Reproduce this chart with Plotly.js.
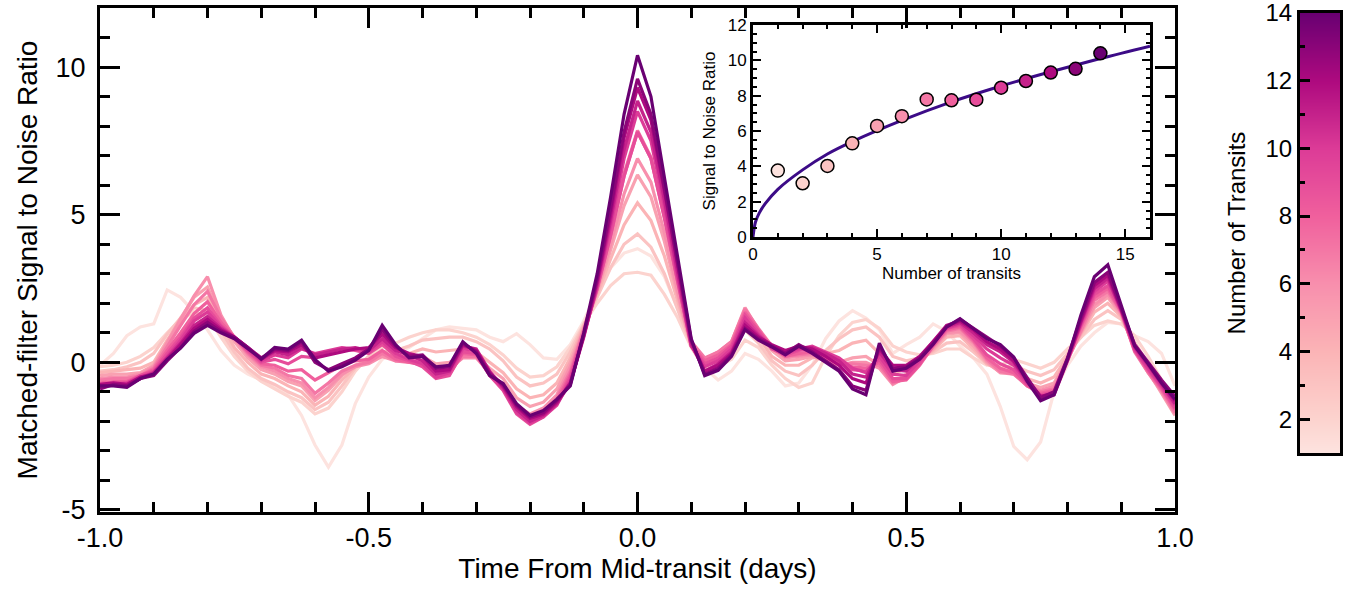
<!DOCTYPE html>
<html>
<head>
<meta charset="utf-8">
<script src="https://cdn.plot.ly/plotly-3.0.1.min.js"></script>
<style>html,body{margin:0;padding:0;background:#fff;}#chart{width:1353px;height:591px;}</style>
</head>
<body>
<div id="chart"></div>
<script>
// ---------- data ----------
const times = [-1.000,-0.975,-0.950,-0.925,-0.900,-0.875,-0.850,-0.825,-0.800,-0.775,-0.750,-0.725,-0.700,-0.675,-0.650,-0.625,-0.600,-0.575,-0.550,-0.525,-0.500,-0.475,-0.450,-0.425,-0.400,-0.375,-0.350,-0.325,-0.300,-0.275,-0.250,-0.225,-0.200,-0.175,-0.150,-0.125,-0.100,-0.075,-0.050,-0.025,0.000,0.025,0.050,0.075,0.100,0.125,0.150,0.175,0.200,0.225,0.250,0.275,0.300,0.325,0.350,0.375,0.400,0.425,0.450,0.475,0.500,0.525,0.550,0.575,0.600,0.625,0.650,0.675,0.700,0.725,0.750,0.775,0.800,0.825,0.850,0.875,0.900,0.925,0.950,0.975,1.000];

const snr01 = [-0.10,0.30,0.90,1.20,1.30,2.45,2.20,1.70,1.10,0.40, -0.10,-0.40,-0.60,-0.80,-1.10,-1.80,-2.80,-3.55,-2.80,-1.40, -0.50,0.10,0.35,0.50,0.80,1.10,1.20,1.15,1.10,0.85, 0.70,0.97,0.60,0.15,0.10,0.60,1.40,2.40,3.20,3.70, 3.85,3.60,2.90,1.80,0.70,-0.20,-0.60,-0.30,0.30,0.10, -0.30,-0.80,-0.70,-0.10,0.80,1.40,1.75,1.50,1.10,0.30, 0.60,0.85,1.30,1.05,0.55,0.15,-0.40,-1.50,-2.85,-3.30, -2.70,-1.00,-0.10,0.55,1.00,1.35,1.30,0.90,0.70,0.30,-0.80];
const snr02 = [-0.15,-0.10,0.00,0.20,0.50,1.00,1.45,1.70,1.55,0.85, 0.20,-0.30,-0.65,-0.90,-1.15,-1.35,-1.75,-1.55,-1.00,-0.30, 0.20,0.50,0.65,0.85,1.00,1.10,1.10,1.00,0.85,0.60, 0.25,-0.20,-0.50,-0.45,-0.15,0.50,1.30,2.00,2.60,3.00, 3.05,2.95,2.30,1.50,0.50,-0.20,-0.15,0.10,0.75,0.50, -0.10,-0.55,-0.85,-0.70,0.20,0.90,1.35,1.45,1.15,0.55, 0.35,0.25,0.30,0.45,0.45,0.15,-0.10,-0.10,0.10,-0.05, -0.20,0.00,0.45,0.85,1.25,1.40,1.30,0.90,0.20,-0.60,-1.40];
const snr03 = [-0.30,-0.25,-0.15,0.00,0.30,0.95,1.50,1.85,1.75,1.05, 0.35,-0.20,-0.55,-0.75,-1.00,-1.20,-1.60,-1.35,-0.80,-0.20, 0.20,0.35,0.40,0.55,0.75,0.80,0.85,0.85,0.70,0.45, 0.05,-0.50,-0.80,-0.70,-0.40,0.35,1.25,2.20,3.20,4.00, 4.35,3.90,3.00,1.80,0.55,-0.10,0.05,0.35,1.10,0.65, 0.05,-0.30,-0.45,-0.10,0.40,0.80,1.10,1.20,0.85,0.20, 0.05,0.15,0.35,0.65,0.70,0.35,-0.05,-0.20,-0.10,-0.30, -0.45,-0.25,0.30,0.85,1.45,1.75,1.45,0.70,-0.05,-0.80,-1.60];
const snr04 = [-0.35,-0.30,-0.25,-0.20,0.00,0.75,1.40,1.95,2.20,1.30, 0.50,0.00,-0.40,-0.55,-0.80,-1.00,-1.45,-1.15,-0.60,-0.15, 0.10,0.25,0.20,0.30,0.45,0.35,0.40,0.45,0.35,0.00, -0.35,-0.90,-1.20,-1.10,-0.70,0.15,1.20,2.30,3.50,4.65, 5.40,4.80,3.60,2.05,0.60,0.00,0.20,0.55,1.50,0.85, 0.20,-0.10,-0.10,0.15,0.30,0.40,0.65,0.75,0.30,-0.40, -0.20,0.10,0.40,0.85,0.90,0.45,-0.05,-0.30,-0.25,-0.55, -0.70,-0.50,0.20,0.95,1.70,2.00,1.55,0.55,-0.20,-0.90,-1.75];
const snr05 = [-0.45,-0.40,-0.40,-0.35,-0.10,0.70,1.50,2.20,2.55,1.50, 0.70,0.15,-0.25,-0.40,-0.65,-0.80,-1.30,-0.95,-0.45,-0.10, 0.05,0.20,0.10,0.15,0.20,-0.05,0.00,0.20,0.20,-0.20, -0.55,-1.20,-1.50,-1.35,-0.90,0.00,1.15,2.40,3.80,5.30, 6.35,5.60,4.10,2.25,0.55,0.05,0.30,0.65,1.75,1.00, 0.40,0.05,0.10,0.20,0.05,0.00,0.15,0.20,-0.10,-0.70, -0.40,0.05,0.45,0.95,1.00,0.55,0.00,-0.35,-0.35,-0.70, -0.85,-0.70,0.10,1.00,1.85,2.20,1.60,0.45,-0.30,-1.00,-1.80];
const snr06 = [-0.55,-0.50,-0.50,-0.40,-0.15,0.65,1.45,2.25,2.90,1.60, 0.80,0.25,-0.15,-0.30,-0.55,-0.70,-1.20,-0.85,-0.40,-0.15, -0.05,0.20,0.05,0.05,0.05,-0.25,-0.20,0.15,0.15,-0.35, -0.75,-1.45,-1.75,-1.55,-1.10,-0.15,1.10,2.45,4.00,5.70, 6.90,6.10,4.40,2.40,0.55,0.10,0.35,0.70,1.85,1.10, 0.50,0.15,0.20,0.25,0.05,-0.10,0.00,0.00,-0.20,-0.75, -0.50,0.00,0.50,1.00,1.05,0.65,0.05,-0.35,-0.40,-0.75, -0.95,-0.80,0.10,1.05,1.95,2.30,1.65,0.40,-0.35,-1.00,-1.75];
const snr07 = [-0.60,-0.55,-0.55,-0.45,-0.20,0.55,1.25,1.95,2.40,1.50, 0.85,0.30,-0.10,-0.20,-0.45,-0.55,-1.05,-0.70,-0.30,-0.10, 0.00,0.30,0.05,0.00,-0.05,-0.35,-0.30,0.20,0.20,-0.40, -0.85,-1.55,-1.90,-1.70,-1.20,-0.30,1.10,2.60,4.40,6.40, 7.85,6.95,5.00,2.75,0.70,0.15,0.35,0.70,1.80,1.15, 0.55,0.20,0.25,0.30,0.10,-0.05,-0.05,-0.10,-0.10,-0.70, -0.55,-0.05,0.55,1.05,1.15,0.70,0.10,-0.30,-0.40,-0.80, -1.00,-0.90,0.05,1.10,2.10,2.40,1.70,0.35,-0.35,-0.95,-1.70];
const snr08 = [-0.70,-0.65,-0.65,-0.45,-0.25,0.40,1.00,1.65,2.05,1.35, 0.85,0.35,-0.05,-0.10,-0.30,-0.25,-0.60,-0.35,-0.10,0.05, 0.10,0.40,0.10,0.00,-0.10,-0.45,-0.40,0.30,0.25,-0.45, -0.90,-1.65,-2.00,-1.80,-1.30,-0.40,1.00,2.50,4.30,6.30, 7.80,6.90,4.90,2.70,0.60,0.05,0.25,0.60,1.70,1.10, 0.50,0.20,0.30,0.35,0.15,-0.05,-0.15,-0.20,0.00,-0.65, -0.60,-0.10,0.55,1.10,1.20,0.75,0.15,-0.20,-0.35,-0.80, -1.05,-0.95,0.10,1.20,2.20,2.50,1.70,0.40,-0.30,-0.90,-1.60];
const snr09 = [-0.75,-0.70,-0.70,-0.45,-0.30,0.30,0.85,1.50,1.85,1.25, 0.85,0.40,0.00,0.10,-0.05,0.20,0.15,0.35,0.45,0.40, 0.30,0.60,0.20,0.05,-0.15,-0.55,-0.45,0.35,0.30,-0.45, -0.95,-1.75,-2.10,-1.85,-1.40,-0.50,0.95,2.50,4.30,6.30, 7.80,6.90,4.90,2.70,0.55,-0.05,0.15,0.55,1.60,1.05, 0.45,0.25,0.40,0.45,0.20,0.00,-0.25,-0.30,0.10,-0.55, -0.55,-0.05,0.60,1.15,1.25,0.80,0.25,-0.05,-0.25,-0.75, -1.10,-1.00,0.15,1.25,2.30,2.60,1.75,0.40,-0.25,-0.85,-1.55];
const snr10 = [-0.80,-0.75,-0.70,-0.50,-0.35,0.20,0.75,1.40,1.70,1.20, 0.85,0.45,0.05,0.25,0.15,0.45,0.30,0.40,0.50,0.45, 0.35,0.70,0.30,0.10,-0.05,-0.50,-0.35,0.45,0.40,-0.40, -0.90,-1.70,-2.05,-1.85,-1.45,-0.60,0.90,2.60,4.60,6.90, 8.50,7.50,5.30,2.85,0.55,-0.15,0.05,0.45,1.50,0.95, 0.50,0.30,0.45,0.55,0.35,0.15,-0.20,-0.35,0.20,-0.40, -0.45,0.05,0.65,1.15,1.30,0.90,0.45,0.15,-0.10,-0.70, -1.15,-1.05,0.10,1.30,2.40,2.75,1.80,0.45,-0.20,-0.80,-1.45];
const snr11 = [-0.85,-0.75,-0.80,-0.55,-0.35,0.15,0.65,1.25,1.55,1.15, 0.85,0.50,0.10,0.35,0.25,0.50,0.25,0.35,0.45,0.50, 0.40,0.80,0.40,0.25,0.05,-0.40,-0.30,0.55,0.45,-0.30, -0.85,-1.60,-2.00,-1.80,-1.40,-0.70,0.85,2.65,4.80,7.20, 8.85,7.80,5.50,3.00,0.60,-0.30,-0.05,0.35,1.35,0.90, 0.55,0.35,0.50,0.50,0.30,0.05,-0.40,-0.50,0.35,-0.25, -0.30,0.15,0.70,1.20,1.35,1.00,0.60,0.35,0.00,-0.65, -1.20,-1.10,0.05,1.35,2.50,2.85,1.75,0.50,-0.10,-0.75,-1.40];
const snr12 = [-0.75,-0.70,-0.75,-0.50,-0.40,0.10,0.60,1.15,1.45,1.10, 0.85,0.50,0.15,0.40,0.35,0.60,0.15,0.25,0.35,0.45, 0.50,0.95,0.50,0.30,0.20,-0.30,-0.25,0.60,0.40,-0.35, -0.80,-1.50,-1.90,-1.75,-1.35,-0.70,0.90,2.75,5.00,7.60, 9.30,8.20,5.80,3.20,0.70,-0.30,-0.10,0.30,1.25,0.85, 0.60,0.40,0.55,0.45,0.20,-0.10,-0.55,-0.70,0.45,-0.10, -0.10,0.20,0.70,1.25,1.40,1.10,0.70,0.45,0.05,-0.60, -1.15,-1.05,0.10,1.40,2.60,2.95,1.80,0.55,-0.05,-0.70,-1.30];
const snr13 = [-0.90,-0.75,-0.80,-0.55,-0.45,0.05,0.50,1.05,1.35,1.05, 0.85,0.50,0.10,0.45,0.40,0.70,0.00,-0.25,-0.05,0.15, 0.45,1.10,0.55,0.20,0.25,-0.20,-0.15,0.65,0.35,-0.40, -0.75,-1.45,-1.85,-1.70,-1.30,-0.75,0.95,2.85,5.20,7.80, 9.60,8.40,5.90,3.30,0.75,-0.40,-0.20,0.25,1.15,0.80, 0.55,0.30,0.60,0.35,0.05,-0.25,-0.80,-0.95,0.55,-0.20, -0.15,0.15,0.65,1.20,1.45,1.15,0.85,0.55,0.15,-0.55, -1.20,-1.00,0.15,1.50,2.70,3.05,1.85,0.60,0.00,-0.60,-1.15];
const snr14 = [-0.80,-0.80,-0.85,-0.55,-0.40,0.10,0.48,0.98,1.25,1.00, 0.80,0.45,0.12,0.50,0.45,0.75,0.10,-0.30,-0.15,0.07, 0.40,1.25,0.60,0.15,0.20,-0.15,-0.10,0.70,0.30,-0.45, -0.72,-1.40,-1.80,-1.63,-1.25,-0.80,1.00,3.00,5.60,8.40, 10.40,9.00,6.30,3.50,0.80,-0.45,-0.27,0.20,1.10,0.75, 0.52,0.25,0.55,0.30,0.00,-0.30,-0.90,-1.10,0.65,-0.30, -0.20,0.10,0.60,1.20,1.48,1.15,0.80,0.60,0.18,-0.65, -1.30,-1.10,0.10,1.60,2.90,3.30,1.90,0.55,-0.05,-0.70,-1.25];

// inset: peak S/N vs number of transits
const transits = [1,2,3,4,5,6,7,8,9,10,11,12,13,14];
const peakSnr  = [3.76,3.04,4.02,5.30,6.29,6.84,7.79,7.74,7.77,8.45,8.83,9.31,9.52,10.40];
// fitted curve
const fitN   = [0,0.1,0.25,0.5,1,2,3,4,6,8,10,12,14,16];
const fitSnr = [0,0.85,1.35,1.9,2.7,3.8,4.7,5.4,6.6,7.65,8.55,9.35,10.1,10.8];

// tick labels
const xTickVals = [-1,-0.5,0,0.5,1];
const xTickText = ['-1.0','-0.5','0.0','0.5','1.0'];
const yTickVals = [-5,0,5,10];
const yTickText = ['-5','0','5','10'];
const inXTickVals = [0,5,10,15];
const inYTickVals = [0,2,4,6,8,10,12];
const cbTickVals = [2,4,6,8,10,12,14];

// ---------- style ----------
const series = [snr01,snr02,snr03,snr04,snr05,snr06,snr07,snr08,snr09,snr10,snr11,snr12,snr13,snr14];
const stops = [[0,'#fde3df'],[0.077,'#fcd3ce'],[0.23,'#fbb4b6'],[0.385,'#f88fad'],[0.538,'#f0609d'],[0.692,'#dc3b97'],[0.846,'#ae0a7f'],[1,'#690072']];
function hex2rgb(h){return [parseInt(h.slice(1,3),16),parseInt(h.slice(3,5),16),parseInt(h.slice(5,7),16)];}
function colorFor(n){
  const t=(n-1)/13;
  for(let k=0;k<stops.length-1;k++){
    const a=stops[k],b=stops[k+1];
    if(t>=a[0]&&t<=b[0]){
      const f=(t-a[0])/(b[0]-a[0]);const ca=hex2rgb(a[1]),cb=hex2rgb(b[1]);
      return 'rgb('+ca.map((v,j)=>Math.round(v+(cb[j]-v)*f)).join(',')+')';
    }
  }
  return stops[stops.length-1][1];
}
const FONT = 'Liberation Sans, Arial, sans-serif';

const traces = [];
series.forEach((s,idx)=>{
  traces.push({x:times,y:s,mode:'lines',line:{color:colorFor(transits[idx]),width:3.2},xaxis:'x',yaxis:'y',hoverinfo:'skip'});
});
traces.push({x:fitN,y:fitSnr,mode:'lines',line:{color:'#3c0b87',width:3,shape:'spline'},xaxis:'x2',yaxis:'y2',hoverinfo:'skip'});
traces.push({x:transits,y:peakSnr,mode:'markers',marker:{size:13,color:transits,colorscale:stops,cmin:1,cmax:14,line:{color:'#000',width:1.5}},xaxis:'x2',yaxis:'y2'});
traces.push({type:'heatmap',x:[0,1],y:transits,z:transits.map(t=>[t,t]),colorscale:stops,zmin:1,zmax:14,zsmooth:'best',showscale:false,xaxis:'x3',yaxis:'y3',hoverinfo:'skip'});

const W=1353,H=591;
const fx=p=>p/W, fy=p=>1-p/H;
const axBase = {showgrid:false,zeroline:false,showline:true,linecolor:'#000',ticks:'inside',tickcolor:'#000',automargin:false,ticklabeloverflow:'allow'};

const layout = {
  width:W,height:H,margin:{l:0,r:0,t:0,b:0},paper_bgcolor:'#fff',plot_bgcolor:'rgba(0,0,0,0)',showlegend:false,
  font:{family:FONT,color:'#000'},
  xaxis:Object.assign({},axBase,{domain:[fx(100),fx(1175)],anchor:'y',range:[-1,1],tickmode:'array',tickvals:xTickVals,ticktext:xTickText,
    ticklen:20,tickwidth:3,linewidth:3,mirror:'allticks',minor:{dtick:0.1,tick0:0,ticklen:10,tickwidth:3,ticks:'inside',tickcolor:'#000'},
    tickfont:{size:27,family:FONT},ticklabelstandoff:0,title:{text:'Time From Mid-transit (days)',font:{size:28,family:FONT},standoff:4}}),
  yaxis:Object.assign({},axBase,{domain:[fy(512),fy(8)],anchor:'x',range:[-5.07,12.0],tickmode:'array',tickvals:yTickVals,ticktext:yTickText,
    ticklen:20,tickwidth:3,linewidth:3,mirror:'allticks',minor:{dtick:1,tick0:0,ticklen:10,tickwidth:3,ticks:'inside',tickcolor:'#000'},
    tickfont:{size:27,family:FONT},ticklabelstandoff:6,title:{text:'Matched-filter Signal to Noise Ratio',font:{size:28,family:FONT},standoff:10}}),
  xaxis2:Object.assign({},axBase,{domain:[fx(753),fx(1150)],anchor:'y2',range:[0,16],tickmode:'array',tickvals:inXTickVals,
    ticklen:8,tickwidth:2,linewidth:3,mirror:'allticks',minor:{dtick:1,tick0:0,ticklen:4,tickwidth:2,ticks:'inside',tickcolor:'#000'},
    tickfont:{size:17,family:FONT},title:{text:'Number of transits',font:{size:17,family:FONT},standoff:2}}),
  yaxis2:Object.assign({},axBase,{domain:[fy(237),fy(25)],anchor:'x2',range:[0,12],tickmode:'array',tickvals:inYTickVals,
    ticklen:8,tickwidth:2,linewidth:3,mirror:'allticks',minor:{dtick:0.5,tick0:0,ticklen:4,tickwidth:2,ticks:'inside',tickcolor:'#000'},
    tickfont:{size:17,family:FONT},title:{text:'Signal to Noise Ratio',font:{size:17,family:FONT},standoff:8}}),
  xaxis3:Object.assign({},axBase,{domain:[fx(1300),fx(1340)],anchor:'y3',range:[-0.5,1.5],ticks:'',showticklabels:false,linewidth:3,mirror:true}),
  yaxis3:Object.assign({},axBase,{domain:[fy(453),fy(13)],anchor:'x3',side:'left',range:[0.999,14.001],tickmode:'array',tickvals:cbTickVals,
    ticklen:10,tickwidth:3,linewidth:3,mirror:true,minor:{dtick:1,tick0:0,ticklen:5,tickwidth:3,ticks:'inside',tickcolor:'#000'},
    tickfont:{size:24,family:FONT},title:{text:'Number of Transits',font:{size:24,family:FONT},standoff:14}})
};
Plotly.newPlot('chart',traces,layout,{staticPlot:true});
</script>
</body>
</html>
